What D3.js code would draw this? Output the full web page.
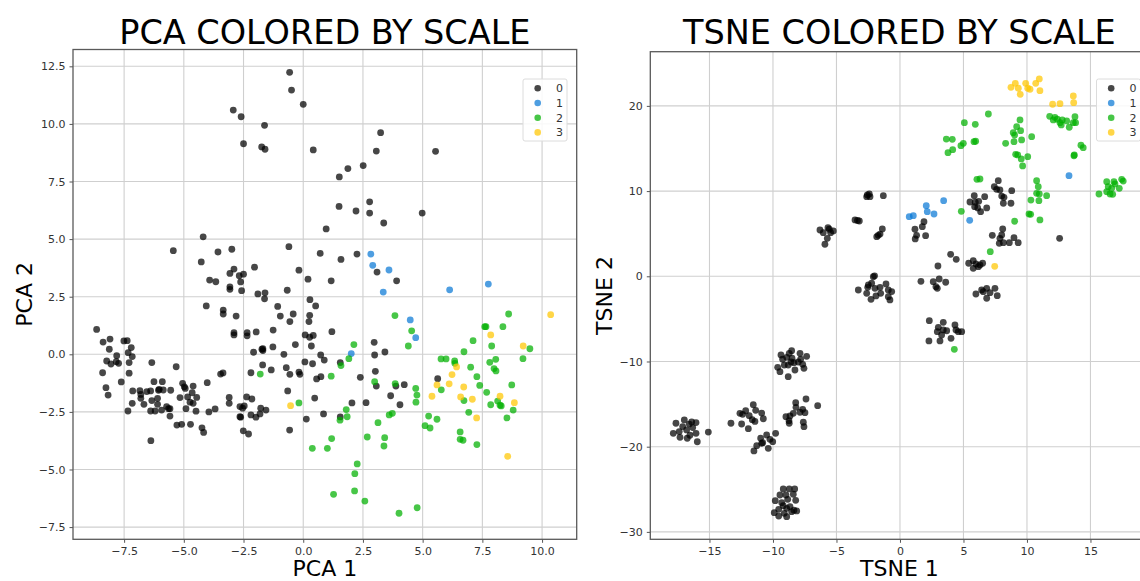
<!DOCTYPE html>
<html><head><meta charset="utf-8">
<script src="https://cdn.jsdelivr.net/npm/d3@7"></script>
<style>body{margin:0;background:#fff;} svg{display:block;font-family:"DejaVu Sans",sans-serif;}</style>
</head><body>
<svg id="c" width="1140" height="581"></svg>
<script>
const classes = ["0","1","2","3"];
const classColors = ["#000000","#0a78d6","#00b000","#ffc600"];

const pcaXTicks = [-7.5,-5.0,-2.5,0.0,2.5,5.0,7.5,10.0];
const pcaYTicks = [-7.5,-5.0,-2.5,0.0,2.5,5.0,7.5,10.0,12.5];
const tsneXTicks = [-15,-10,-5,0,5,10,15];
const tsneYTicks = [-30,-20,-10,0,10,20];

const pca0 = [[-0.57,12.24],[-0.49,11.47],[-2.93,10.60],[-2.60,10.31],[-1.62,9.94],[-2.50,9.14],[-1.74,9.00],[-1.60,8.90],[-4.19,5.10],[-5.44,4.50],[-4.27,4.01],[-3.57,4.44],[-2.99,4.56],[-0.60,4.67],[-3.92,3.22],[-3.66,3.15],[-3.07,3.51],[-2.90,3.70],[-2.68,3.41],[-2.50,3.48],[-2.04,3.78],[-2.62,3.14],[-3.07,2.93],[-3.07,2.82],[-2.58,2.76],[-1.90,2.62],[-1.60,2.67],[-1.62,2.41],[-0.67,2.78],[-0.18,3.65],[-4.06,2.10],[-3.35,1.92],[-3.35,1.75],[-2.81,1.66],[-1.07,2.08],[-0.96,1.66],[-0.42,1.75],
[0.00,10.85],[3.24,9.62],[0.42,8.87],[3.06,8.82],[5.54,8.81],[2.51,8.19],[1.87,8.06],[1.51,7.70],[2.78,6.62],[1.50,6.42],[2.21,6.22],[2.78,6.13],[4.98,6.13],[3.37,5.70],[0.96,5.44],[0.71,4.38],[1.58,4.12],[2.25,4.35],[3.09,3.57],[3.91,3.19],[0.20,3.26],[1.17,3.19],[0.28,2.37],[0.52,2.10],[0.27,1.69],
[-0.56,1.42],[0.24,1.42],[-2.90,0.94],[-2.90,0.84],[-2.35,0.80],[-2.35,0.94],[-1.97,0.97],[-1.26,1.05],[1.20,0.98],[0.08,0.84],[0.27,0.74],[0.42,0.82],[0.34,0.36],[-0.33,0.42],[-1.27,0.32],[-1.69,0.24],[-1.69,0.16],[-2.08,0.09],[-0.81,0.00],[0.73,-0.03],[0.88,-0.25],[0.07,-0.33],[0.39,-0.41],[-1.70,-0.46],[-2.19,-0.80],[-1.34,-0.68],[-0.71,-0.58],[-0.56,-0.87],[-0.18,-0.77],[-0.14,-0.87],[0.56,-1.07],[0.74,-0.97],[1.55,-0.36],[2.39,-1.00],[2.97,0.52],[2.99,-0.03],[3.42,0.10],[3.02,-0.74],[3.06,-1.38],[3.88,-1.38],[4.23,-1.32],[3.66,-1.80],[4.05,-2.19],[2.63,-2.10],[2.04,-2.11],[-0.65,-1.59],[0.48,-1.90],[-3.10,-1.87],[-3.10,-2.13],[-2.37,-1.85],[-2.15,-1.94],[-2.65,-2.27],[-2.47,-2.24],[-2.54,-2.34],[-2.65,-2.71],[-2.62,-2.73],[-2.19,-2.63],[-1.98,-2.73],[-1.81,-2.59],[-1.78,-2.34],[-1.56,-2.42],[-2.51,-3.32],[-2.29,-3.46],[-0.57,-3.29],[0.13,-2.81],[0.85,-2.59],[1.55,-2.72],[5.63,-1.06],[-1.73,0.22],
[-8.65,1.08],[-8.38,0.53],[-8.09,0.66],[-8.12,0.22],[-8.40,-0.80],[-8.23,-0.29],[-8.05,-0.42],[-7.81,-0.06],[-7.83,-0.32],[-7.73,-0.39],[-8.26,-1.45],[-8.17,-1.77],[-7.51,0.58],[-7.37,0.59],[-7.20,0.29],[-7.33,0.07],[-7.29,-0.36],[-7.16,-0.10],[-7.29,-0.82],[-7.62,-1.20],[-7.34,-2.46],[-7.14,-1.59],[-7.16,-2.13],[-6.84,-1.58],[-6.80,-1.74],[-6.80,-1.91],[-6.67,-2.17],[-6.55,-1.62],[-6.39,-1.59],[-6.34,-0.36],[-6.39,-2.46],[-6.20,-2.46],[-6.34,-2.01],[-6.25,-1.19],[-6.10,-1.91],[-6.06,-1.56],[-6.03,-1.52],[-5.90,-1.19],[-5.86,-1.55],[-5.93,-2.42],[-6.10,-2.17],[-6.38,-3.75],[-5.72,-2.27],[-5.64,-2.36],[-5.58,-2.36],[-5.55,-1.56],[-5.58,-2.68],[-5.32,-0.54],[-5.16,-1.88],[-5.05,-1.26],[-4.98,-1.41],[-4.94,-1.48],[-4.91,-2.36],[-5.29,-3.07],[-5.09,-3.04],[-4.72,-3.04],[-4.84,-1.85],[-4.74,-2.08],[-4.65,-1.67],[-4.61,-1.38],[-4.61,-2.13],[-4.46,-1.87],[-4.49,-2.47],[-4.24,-3.19],[-4.17,-3.39],[-4.02,-1.23],[-3.95,-2.50],[-3.69,-2.37],[-3.46,-0.86],[-3.36,-0.81]];
const pca1 = [[2.83,4.35],[2.91,3.86],[3.59,3.66],[3.35,2.70],[6.13,2.80],[7.75,3.05],[4.48,1.49],[4.71,0.72],[2.01,0.03]];
const pca2 = [[3.84,1.68],[8.60,1.75],[1.58,-0.49],[1.91,-0.19],[2.12,0.42],[1.17,-0.95],[2.99,-1.19],[3.85,-1.27],[-1.80,-0.86],[-0.18,-2.11],[1.54,-2.86],[1.80,-2.40],[1.84,-2.71],[1.19,-3.66],[0.38,-4.08],[1.01,-4.08],[2.68,-3.59],[3.13,-2.97],[3.41,-3.62],[3.38,-3.98],[3.60,-2.63],[3.73,-2.56],[4.40,0.36],[4.54,1.02],[4.71,-1.48],[4.76,-1.77],[4.72,-2.08],[2.26,-4.76],[2.16,-5.18],[2.15,-5.93],[1.27,-6.08],[2.58,-6.37],[4.01,-6.90],[4.77,-6.66],[7.60,1.20],[7.65,1.20],[8.36,1.20],[7.11,0.59],[6.73,0.11],[7.89,0.36],[9.49,0.24],[5.77,-0.20],[5.98,-0.20],[6.34,-0.29],[6.35,-0.39],[7.01,-0.56],[7.81,-0.35],[8.06,-0.22],[7.99,-0.62],[8.07,-0.72],[9.20,-0.19],[5.78,-1.54],[7.27,-0.97],[7.39,-1.35],[8.73,-1.33],[7.68,-1.65],[6.73,-2.01],[8.14,-2.03],[8.24,-2.21],[8.29,-2.24],[7.85,-2.19],[8.79,-2.42],[6.93,-2.52],[8.53,-2.76],[5.25,-2.68],[5.60,-2.82],[5.10,-3.10],[5.31,-3.20],[6.57,-3.37],[6.57,-3.69],[6.69,-3.73],[7.27,-3.92]];
const pca3 = [[-0.53,-2.23],[10.36,1.72],[7.85,0.84],[9.21,0.36],[6.42,-0.55],[6.23,-0.88],[5.60,-1.33],[6.11,-1.28],[6.72,-1.42],[5.39,-1.82],[6.59,-1.85],[7.08,-1.95],[8.24,-1.82],[8.84,-2.10],[7.26,-2.76],[8.56,-4.43]];

const tsne0 = [[-6.30,5.43],[-6.04,5.12],[-5.67,5.70],[-5.46,5.12],[-5.25,5.32],[-5.72,4.46],[-5.91,3.76],[-5.57,5.52],
[-2.57,9.54],[-2.42,9.66],[-2.62,9.34],[-2.36,9.34],[-1.31,9.46],
[-3.54,6.61],[-3.20,6.49],[-3.35,6.55],
[-1.39,5.55],[-1.71,4.81],[-1.83,4.65],[-1.57,4.96],
[-3.28,-1.61],[-2.62,-2.00],[-2.49,-1.02],[-2.23,-0.82],[-1.97,-1.41],[-1.57,-1.29],[-1.52,-2.00],[-1.10,-0.90],[-0.92,-2.39],[-0.65,-1.80],[-0.79,-2.78],[-2.28,-2.70],[-2.10,-0.05],[-2.00,0.05],[-0.92,-1.61],[-2.54,-1.29],[-1.89,-2.31],
[1.89,6.41],[1.76,5.82],[1.18,5.52],[1.31,4.81],[1.20,4.38],[2.02,4.77],
[5.85,9.46],[5.51,8.72],[5.93,8.69],[5.88,8.17],[6.12,8.02],[6.35,7.58],[6.20,8.80],[6.67,9.34],[6.83,8.02],
[7.43,10.52],[7.74,11.22],[7.61,10.21],[7.87,10.13],[8.01,9.42],[8.19,9.27],[8.14,8.57],[8.80,10.05],[8.74,8.57],
[7.27,4.81],[8.09,5.55],[8.01,4.85],[7.87,4.46],[7.82,3.87],[8.14,3.94],[8.61,3.94],[8.98,4.53],[9.31,3.94],
[3.99,2.58],[4.43,1.99],[2.99,1.21],
[5.41,1.53],[5.77,1.83],[5.98,1.44],[6.30,1.33],[6.51,1.53],[5.77,0.94],[6.17,1.13],
[1.65,-0.59],[2.62,-0.63],[2.83,-1.22],[2.94,-1.41],[3.09,-0.32],[3.60,-0.70],
[5.98,-2.08],[6.43,-1.61],[6.56,-1.81],[6.83,-1.41],[7.09,-1.92],[7.48,-1.41],[7.66,-2.28],[6.83,-2.58],
[2.31,-5.21],[3.41,-5.40],[3.02,-5.99],[3.41,-6.30],[2.94,-6.50],[3.68,-6.39],[4.33,-5.72],[4.41,-6.30],[4.59,-6.50],[4.86,-6.50],[4.02,-7.28],[3.15,-7.59],[2.28,-7.59],[3.28,-6.89],
[12.57,4.46],
[-17.85,-18.43],[-17.64,-17.25],[-17.38,-18.23],[-17.32,-18.90],[-17.11,-17.64],[-16.98,-16.86],[-16.80,-18.03],[-16.75,-19.01],[-16.59,-17.35],[-16.40,-17.09],[-16.54,-18.66],[-16.32,-17.76],[-16.06,-17.17],[-16.06,-18.43],[-15.96,-19.42],[-15.09,-18.29],
[-13.31,-17.25],[-12.60,-16.08],[-12.47,-17.34],[-12.15,-15.78],[-11.87,-16.36],[-11.63,-16.83],[-11.55,-15.07],[-11.36,-15.73],[-11.42,-17.03],[-11.94,-17.89],[-10.89,-16.06],[-10.76,-16.72],[-12.39,-16.20],
[-11.50,-20.50],[-11.28,-19.88],[-10.97,-19.01],[-10.81,-19.53],[-10.50,-18.63],[-10.24,-19.13],[-10.37,-20.19],[-10.02,-19.41],[-9.79,-18.43],[-10.89,-19.60],
[-9.63,-10.68],[-9.45,-11.20],[-9.37,-9.24],[-9.24,-9.74],[-9.11,-10.42],[-8.80,-10.42],[-8.72,-9.04],[-8.53,-8.73],[-8.50,-9.62],[-8.80,-11.78],[-8.35,-10.14],[-8.27,-11.00],[-7.87,-9.04],[-7.82,-9.74],[-7.66,-10.33],[-7.56,-10.80],[-7.35,-9.39],[-8.58,-10.06],[-8.92,-9.51],[-8.01,-10.06],
[-8.98,-16.48],[-8.74,-16.95],[-8.66,-16.40],[-8.72,-17.25],[-8.40,-16.08],[-8.21,-14.84],[-8.19,-15.38],[-7.87,-15.96],[-7.66,-15.61],[-7.48,-16.01],[-7.40,-14.40],[-7.61,-17.13],[-7.56,-17.65],[-6.48,-15.19],
[-9.90,-27.75],[-9.82,-26.34],[-9.55,-27.35],[-9.45,-25.67],[-9.31,-26.57],[-9.19,-24.96],[-9.11,-27.82],[-8.98,-25.67],[-8.92,-28.22],[-8.84,-26.18],[-8.72,-24.96],[-8.66,-27.04],[-8.53,-27.63],[-8.40,-25.58],[-8.29,-24.96],[-8.21,-26.29],[-8.35,-27.46],[-8.13,-27.54],[-9.55,-28.14],[-8.92,-27.24],[-9.19,-26.93]];
const tsne1 = [[0.73,7.00],[1.05,7.11],[2.07,8.29],[2.15,7.58],[2.68,7.31],[3.44,8.87],[5.49,6.57],[13.31,11.81]];
const tsne2 = [[4.83,7.63],[4.28,-8.57],[7.11,2.89],[9.03,6.46],
[3.65,16.11],[4.12,16.08],[3.78,14.51],[4.15,14.86],[4.80,15.33],[4.99,15.61],[5.07,18.03],[5.93,17.84],[5.83,15.80],[5.96,15.85],[6.96,19.05],
[8.32,15.61],[8.98,15.80],[9.03,16.58],[8.92,16.85],[9.19,17.56],[9.45,18.35],[9.50,17.09],[9.58,16.00],[9.11,14.32],[9.27,14.24],[9.55,13.77],[9.66,12.95],[10.06,14.04],[10.37,16.39],
[6.06,11.38],[6.30,11.42],
[11.79,18.78],[12.20,18.66],[12.07,18.35],[12.39,18.43],[12.60,18.03],[12.78,18.35],[13.13,18.23],[13.33,17.49],[13.65,18.03],[13.78,18.73],[13.83,18.03],[12.70,17.76],
[14.25,15.38],[14.43,15.10],[13.70,14.15],[13.73,14.24],
[15.67,9.66],[16.28,11.10],[16.40,10.51],[16.54,9.66],[16.75,9.62],[16.67,10.33],[16.85,11.10],[16.93,10.83],[17.27,10.33],[17.46,11.38],[17.58,11.18],[16.28,9.93],
[10.76,11.22],[10.89,10.51],[10.76,9.74],[10.97,9.66],[11.55,9.46],[10.31,8.95],[10.94,8.87],[10.16,7.31],[10.29,7.27],[11.02,6.61]];
const tsne3 = [[8.74,22.18],[9.08,22.65],[9.32,22.07],[9.47,21.36],[9.90,22.65],[10.06,22.07],[10.24,21.95],[10.69,22.65],[10.97,23.16],[11.02,21.78],[12.02,20.19],[12.60,20.26],[13.65,21.16],[13.68,20.38],[7.46,1.17]];

const svg = d3.select("#c");
const fmt1 = d => d3.format(".1f")(d).replace("-", "\u2212");
const fmt0 = d => d3.format("d")(d).replace("-", "\u2212");

function panel(cfg) {
  const x = d3.scaleLinear().domain(cfg.xd).range([cfg.left, cfg.right]);
  const y = d3.scaleLinear().domain(cfg.yd).range([cfg.bottom, cfg.top]);
  const g = svg.append("g");
  const clipId = "clip" + cfg.id;
  svg.append("clipPath").attr("id", clipId).append("rect")
    .attr("x", cfg.left).attr("y", cfg.top).attr("width", cfg.right - cfg.left).attr("height", cfg.bottom - cfg.top);
  g.append("g").selectAll("line").data(cfg.xt).join("line")
    .attr("x1", d => x(d)).attr("x2", d => x(d)).attr("y1", cfg.top).attr("y2", cfg.bottom)
    .attr("stroke", "#cfcfcf").attr("stroke-width", 1.1);
  g.append("g").selectAll("line").data(cfg.yt).join("line")
    .attr("y1", d => y(d)).attr("y2", d => y(d)).attr("x1", cfg.left).attr("x2", cfg.right)
    .attr("stroke", "#cfcfcf").attr("stroke-width", 1.1);
  const xa = g.append("g").attr("transform", `translate(0,${cfg.bottom})`)
    .call(d3.axisBottom(x).tickValues(cfg.xt).tickFormat(cfg.fmt).tickSize(3.5).tickPadding(4));
  const ya = g.append("g").attr("transform", `translate(${cfg.left},0)`)
    .call(d3.axisLeft(y).tickValues(cfg.yt).tickFormat(cfg.fmt).tickSize(3.5).tickPadding(4));
  [xa, ya].forEach(a => {
    a.select(".domain").remove();
    a.selectAll(".tick line").attr("stroke", "#555");
    a.selectAll("text").attr("font-size", 11).attr("fill", "#333").attr("font-family", "DejaVu Sans");
  });
  const pts = g.append("g").attr("clip-path", `url(#${clipId})`);
  cfg.series.forEach((s, i) => {
    pts.append("g").selectAll("circle").data(s).join("circle")
      .attr("cx", d => x(d[0])).attr("cy", d => y(d[1])).attr("r", 3.4)
      .attr("fill", classColors[i]).attr("fill-opacity", 0.72);
  });
  g.append("rect").attr("x", cfg.left).attr("y", cfg.top)
    .attr("width", cfg.right - cfg.left).attr("height", cfg.bottom - cfg.top)
    .attr("fill", "none").attr("stroke", "#5a5a5a").attr("stroke-width", 1.3);
  const lg = g.append("g");
  const rowH = 14.7;
  lg.append("rect").attr("x", cfg.legX).attr("y", cfg.legY).attr("width", 44).attr("height", 62)
    .attr("rx", 2).attr("fill", "#fff").attr("fill-opacity", 0.85).attr("stroke", "#dcdcdc");
  classes.forEach((c, i) => {
    lg.append("circle").attr("cx", cfg.legX + 14.7).attr("cy", cfg.legY + 9.3 + i * rowH).attr("r", 3.3)
      .attr("fill", classColors[i]).attr("fill-opacity", 0.72);
    lg.append("text").attr("x", cfg.legX + 33).attr("y", cfg.legY + 9.3 + i * rowH + 4)
      .attr("font-size", 11).attr("fill", "#333").text(c);
  });
  const cx = (cfg.left + cfg.right) / 2;
  svg.append("text").attr("x", cx).attr("y", 44).attr("text-anchor", "middle")
    .attr("font-size", 33.5).attr("fill", "#000").text(cfg.title);
  svg.append("text").attr("x", cx).attr("y", 576).attr("text-anchor", "middle")
    .attr("font-size", 22).attr("fill", "#000").text(cfg.xlabel);
  svg.append("text").attr("transform", `translate(${cfg.ylabX},${(cfg.top + cfg.bottom) / 2}) rotate(-90)`)
    .attr("text-anchor", "middle").attr("font-size", 22).attr("fill", "#000").text(cfg.ylabel);
}

panel({id: 1, left: 73, right: 576.7, top: 49.5, bottom: 539.3,
  xd: [-9.64, 11.45], yd: [-8.03, 13.23], xt: pcaXTicks, yt: pcaYTicks, fmt: fmt1,
  series: [pca0, pca1, pca2, pca3], legX: 523, legY: 79,
  title: "PCA COLORED BY SCALE", xlabel: "PCA 1", ylabel: "PCA 2", ylabX: 31.5});
panel({id: 2, left: 650.3, right: 1148.5, top: 51.7, bottom: 539.3,
  xd: [-19.66, 19.57], yd: [-30.87, 26.36], xt: tsneXTicks, yt: tsneYTicks, fmt: fmt0,
  series: [tsne0, tsne1, tsne2, tsne3], legX: 1096.5, legY: 79,
  title: "TSNE COLORED BY SCALE", xlabel: "TSNE 1", ylabel: "TSNE 2", ylabX: 612});
</script>
</body></html>
